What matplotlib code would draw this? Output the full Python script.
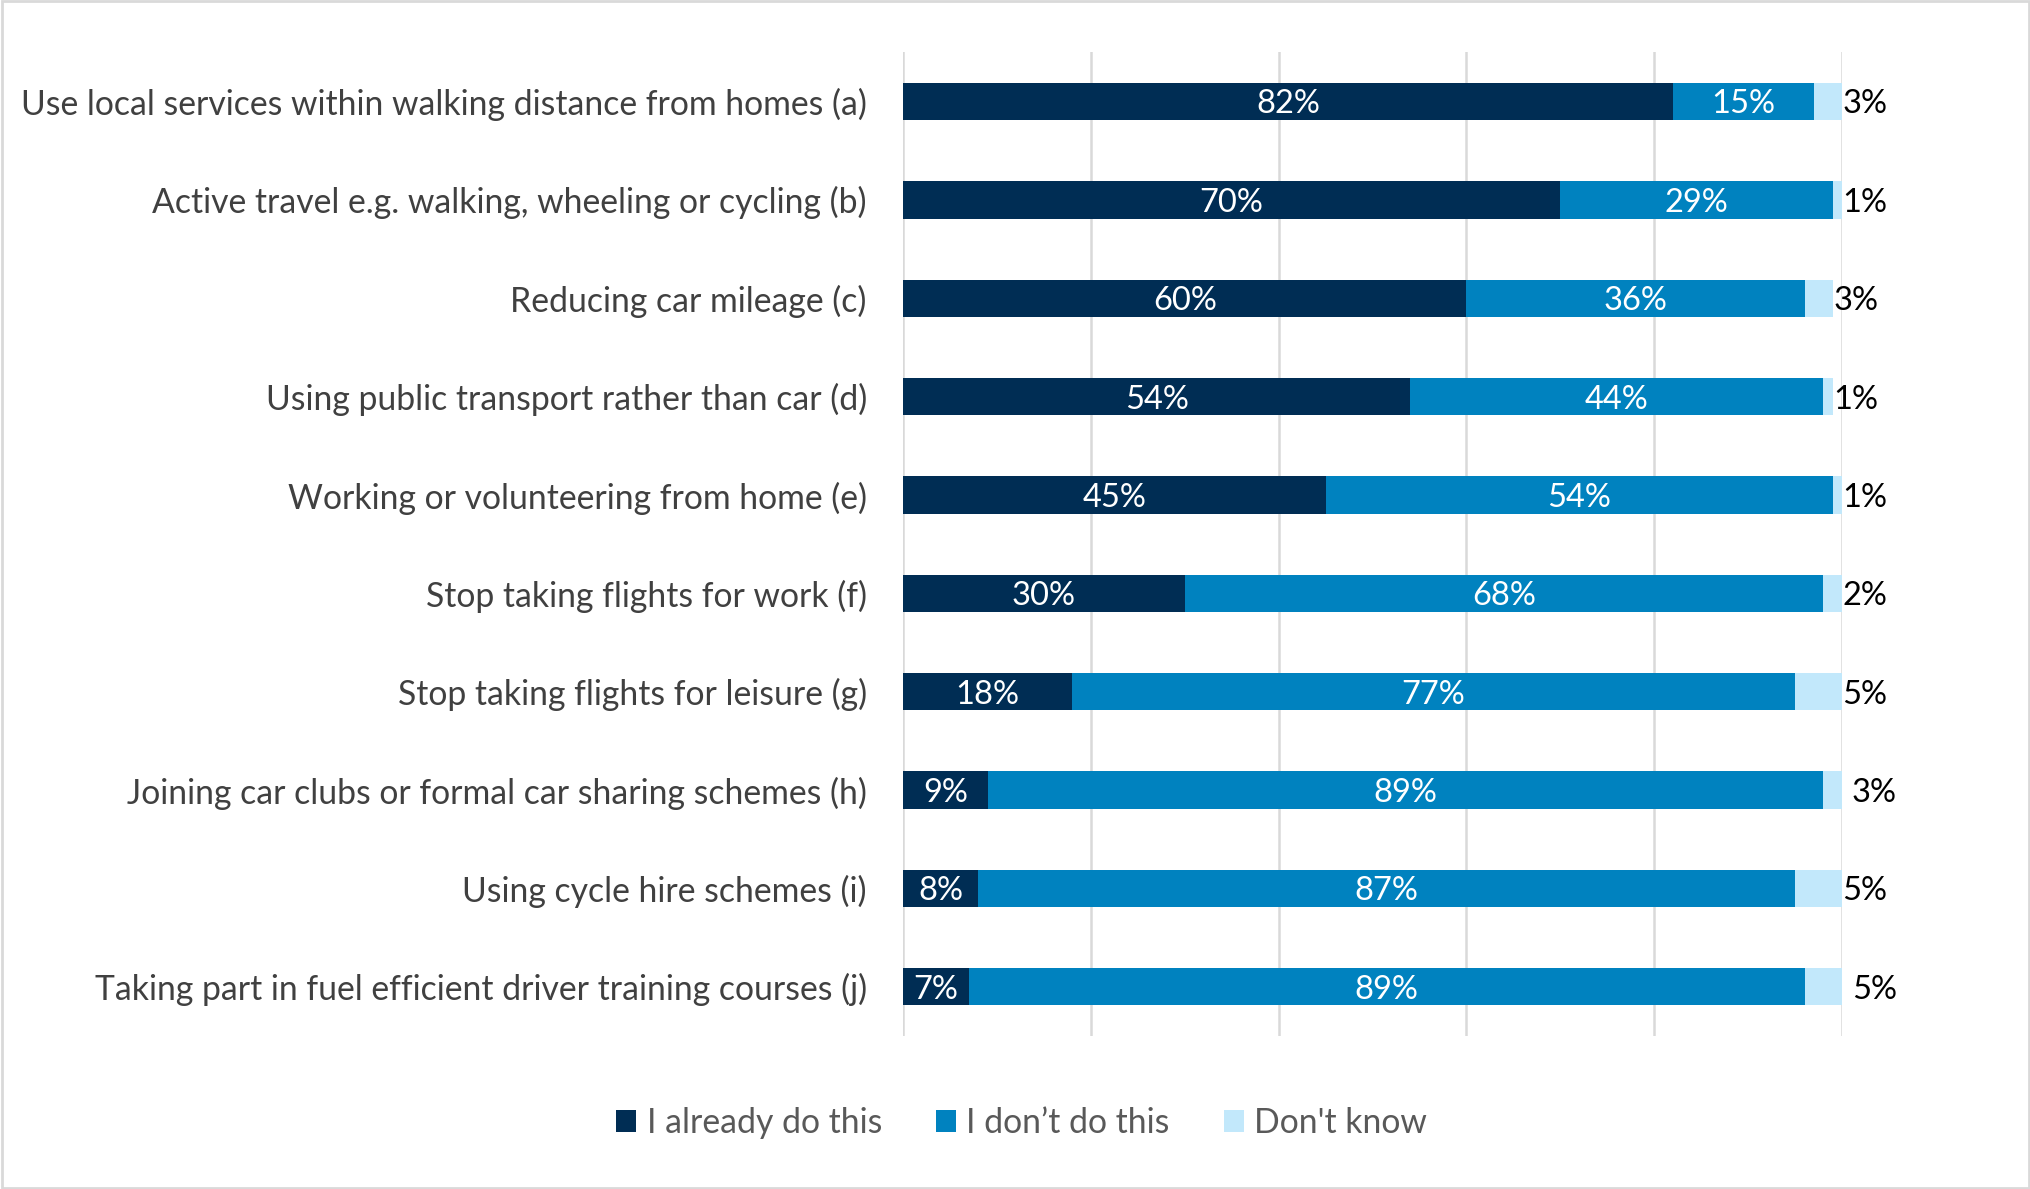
import matplotlib
matplotlib.use("Agg")
import matplotlib.pyplot as plt
from matplotlib.patches import Rectangle
import numpy as np

categories = [
    "Use local services within walking distance from homes (a)",
    "Active travel e.g. walking, wheeling or cycling (b)",
    "Reducing car mileage (c)",
    "Using public transport rather than car (d)",
    "Working or volunteering from home (e)",
    "Stop taking flights for work (f)",
    "Stop taking flights for leisure (g)",
    "Joining car clubs or formal car sharing schemes (h)",
    "Using cycle hire schemes (i)",
    "Taking part in fuel efficient driver training courses (j)",
]
already = [82, 70, 60, 54, 45, 30, 18, 9, 8, 7]
dont = [15, 29, 36, 44, 54, 68, 77, 89, 87, 89]
dont_know = [3, 1, 3, 1, 1, 2, 5, 3, 5, 5]
series_names = ["I already do this", "I don\u2019t do this", "Don't know"]
colors = ["#002D54", "#0082BF", "#C2E8FB"]

plt.rcParams['font.family'] = ['Lato', 'DejaVu Sans']

fig = plt.figure(figsize=(20.31, 11.89), dpi=100)
ax = fig.add_axes([0.4446, 0.1287, 0.4624, 0.8273])

y = np.arange(len(categories))
h = 0.38
left = np.zeros(len(categories))
vals = [already, dont, dont_know]
for i, (name, v, c) in enumerate(zip(series_names, vals, colors)):
    v = np.array(v, dtype=float)
    ax.barh(y, v, left=left, height=h, color=c, label=name, zorder=3)
    for j, (l, w) in enumerate(zip(left, v)):
        if i < 2:
            ax.text(l + w / 2, j, f"{int(w)}%", ha="center", va="center_baseline",
                    color="white", fontsize=23.5, zorder=4)
        else:
            ax.text(l + w + 0.05, j, f"{int(w)}%", ha="left", va="center_baseline",
                    color="black", fontsize=23.5, zorder=4)
    left = left + v

ax.set_ylim(len(categories) - 0.5, -0.5)
ax.set_xlim(0, 100)
ax.set_xticks([0, 20, 40, 60, 80, 100])
ax.set_xticklabels([])
ax.set_yticks(y)
ax.set_yticklabels(categories, fontsize=24.3, color="#404040")
for t in ax.get_yticklabels():
    t.set_verticalalignment("center_baseline")
ax.tick_params(axis="both", length=0)
ax.tick_params(axis="y", pad=26)
ax.grid(axis="x", color="#D9D9D9", linewidth=1.8, zorder=0)
for s in ax.spines.values():
    s.set_visible(False)

leg = fig.legend(loc="center", bbox_to_anchor=(0.503, 0.0555), ncol=3, frameon=False,
                 fontsize=24.3, handlelength=0.6, handleheight=0.6, handletextpad=0.3,
                 columnspacing=1.6)
for t in leg.get_texts():
    t.set_color("#595959")

fig.patches.append(Rectangle((0.001, 0.001), 0.998, 0.998, transform=fig.transFigure,
                             fill=False, edgecolor="#D9D9D9", linewidth=2))

fig.savefig("out.png", dpi=100)
